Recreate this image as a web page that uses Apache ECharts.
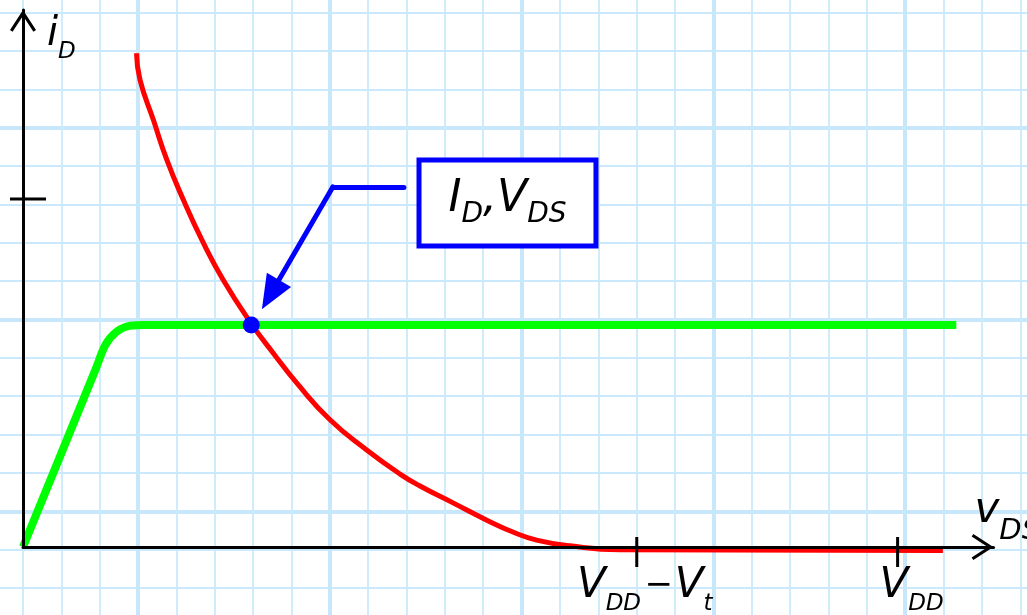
<!DOCTYPE html>
<html>
<head>
<meta charset="utf-8">
<script src="https://cdn.jsdelivr.net/npm/echarts@6/dist/echarts.min.js"></script>
<style>
  html, body { margin: 0; padding: 0; background: #fff; }
  #chart { width: 1027px; height: 615px; }
</style>
</head>
<body>
<div id="chart"></div>
<script>
// all values in graph-paper cells, measured from the origin
var redX = [2.96, 3.05, 3.40, 3.75, 4.18, 4.66, 5.22, 5.96, 6.52, 7.14, 8.01, 8.96, 9.83, 10.35, 11.21, 12.09, 12.77, 13.39, 14.26, 15.56, 23.98]
var redY = [12.87, 12.18, 11.13, 10.09, 9.05, 8.01, 6.96, 5.81, 5.06, 4.27, 3.31, 2.53, 1.90, 1.59, 1.15, 0.70, 0.39, 0.18, 0.03, -0.07, -0.09]
var greenX = [0, 1.90, 2.15, 2.45, 2.80, 3.20, 24.33]
var greenY = [0, 4.65, 5.27, 5.62, 5.77, 5.79, 5.79]
var qPoint = [5.95, 5.79]
var xTicks = [16.0, 22.8]
var xTickNames = ['{v|V}{s|DD} {m|−}{v|V}{s|t}', '{v|V}{s|DD}']
var yTicks = [9.07]
var boxAt = [12.63, 8.97]
var leader = [[9.93, 9.39], [8.08, 9.39], [6.45, 6.58]]

var FONT = 'DejaVu Sans'
var CELL = 38.36
var chevron = 'path://M13,0L26,20L23.4,21.7L13,5.6L2.6,21.7L0,20Z'

function zip (xs, ys) {
  return xs.map(function (x, i) { return [x, ys[i]] })
}

function paperAxis (step, max, color, width) {
  return {
    type: 'value', gridIndex: 0, min: 0, max: max, interval: step,
    axisLine: { show: false }, axisTick: { show: false }, axisLabel: { show: false },
    splitLine: { show: true, lineStyle: { color: color, width: width } }
  }
}

function txt (size, extra) {
  return Object.assign({ fontFamily: FONT, fontStyle: 'italic', fontSize: size, color: '#000' }, extra || {})
}

var chart = echarts.init(document.getElementById('chart'))
var option = {
  backgroundColor: '#fff',
  animation: false,
  grid: [
    { left: 138 - 5 * CELL, top: 127.7 - 5 * CELL, width: 30 * CELL, height: 20 * CELL, outerBoundsMode: 'none', containLabel: false },
    { left: 23, top: 547 - 14 * CELL, width: 25.3 * CELL, height: 14 * CELL, outerBoundsMode: 'none', containLabel: false }
  ],
  xAxis: [
    paperAxis(1, 30, '#cbe9fc', 1.8),
    paperAxis(5, 30, '#c8e7fb', 4),
    {
      type: 'value', gridIndex: 1, min: 0, max: 25.3, z: 10,
      axisLine: { symbol: ['none', chevron], symbolSize: [26, 22], symbolOffset: [0, -11], lineStyle: { color: '#000', width: 3 } },
      axisTick: { show: false }, axisLabel: { show: false }, splitLine: { show: false },
      name: '{v|v}{s|DS}', nameLocation: 'end', nameGap: -19,
      nameTextStyle: {
        align: 'left', verticalAlign: 'bottom', padding: [0, 0, 1, 0],
        rich: {
          v: txt(42, { verticalAlign: 'top', padding: [0, 0, 14, 0] }),
          s: txt(29, { verticalAlign: 'bottom' })
        }
      }
    }
  ],
  yAxis: [
    paperAxis(1, 20, '#cbe9fc', 1.8),
    paperAxis(5, 20, '#c8e7fb', 4),
    {
      type: 'value', gridIndex: 1, min: 0, max: 14, z: 10,
      axisLine: { symbol: ['none', chevron], symbolSize: [26, 22], symbolOffset: [0, -11], lineStyle: { color: '#000', width: 3 } },
      axisTick: { show: false }, axisLabel: { show: false }, splitLine: { show: false },
      name: '{i|i}{d|D}', nameLocation: 'end', nameGap: -5,
      nameTextStyle: {
        align: 'left', verticalAlign: 'top', padding: [0, 0, 0, 24],
        rich: {
          i: txt(40, { verticalAlign: 'top', padding: [0, 0, 9, 0] }),
          d: txt(23, { verticalAlign: 'bottom' })
        }
      }
    }
  ],
  series: [
    {
      name: 'device', type: 'line', xAxisIndex: 2, yAxisIndex: 2, z: 3,
      data: zip(greenX, greenY), smooth: 0.3, showSymbol: false, clip: false,
      lineStyle: { color: '#00ff00', width: 8 }
    },
    {
      name: 'load', type: 'line', xAxisIndex: 2, yAxisIndex: 2, z: 4,
      data: zip(redX, redY), smooth: 0.5, showSymbol: false, clip: false,
      lineStyle: { color: '#ff0000', width: 5 }
    },
    {
      name: 'Q', type: 'scatter', xAxisIndex: 2, yAxisIndex: 2, z: 6, clip: false,
      data: [qPoint], symbolSize: 17, itemStyle: { color: '#0000ff', opacity: 1 }
    },
    {
      name: 'xticks', type: 'scatter', xAxisIndex: 2, yAxisIndex: 2, z: 12, clip: false,
      data: xTicks.map(function (x, i) {
        return { value: [x, 0], label: { formatter: xTickNames[i], offset: [i === 0 ? 8 : 14, 0] } }
      }),
      symbol: 'rect', symbolSize: [3, 30], symbolOffset: [0, 5], itemStyle: { color: '#000', opacity: 1 },
      label: {
        show: true, position: 'bottom', distance: -2, color: '#000',
        rich: {
          v: txt(42, { verticalAlign: 'top', padding: [0, 0, 9, 0] }),
          s: txt(23, { verticalAlign: 'bottom' }),
          m: { fontFamily: FONT, fontSize: 34, color: '#000', verticalAlign: 'top', padding: [4, 2, 0, 0] }
        }
      }
    },
    {
      name: 'yticks', type: 'scatter', xAxisIndex: 2, yAxisIndex: 2, z: 12, clip: false,
      data: yTicks.map(function (y) { return [0, y] }),
      symbol: 'rect', symbolSize: [36, 3], symbolOffset: [5, 0], itemStyle: { color: '#000', opacity: 1 }
    },
    {
      name: 'callout', type: 'scatter', xAxisIndex: 2, yAxisIndex: 2, z: 8, clip: false,
      data: [boxAt], symbolSize: 1, itemStyle: { color: 'rgba(0,0,0,0)', opacity: 1 },
      label: {
        show: true, position: 'inside', color: '#000',
        formatter: '{a|I}{b|D}{a|,V}{b|DS}',
        backgroundColor: '#fff', borderColor: '#0000ff', borderWidth: 5,
        padding: [15, 27, 15, 27],
        rich: {
          a: txt(44, { verticalAlign: 'top', padding: [0, 0, 7, 0] }),
          b: txt(28, { verticalAlign: 'bottom' })
        }
      },
      markLine: {
        silent: true, symbol: ['none', 'none'], label: { show: false },
        lineStyle: { color: '#0000ff', width: 5, type: 'solid', cap: 'round', opacity: 1 },
        data: [
          [{ coord: leader[0] }, { coord: leader[1] }],
          [{ coord: leader[1] }, { coord: leader[2], symbol: 'triangle', symbolSize: [28, 34] }]
        ]
      }
    }
  ]
}
chart.setOption(option)
</script>
</body>
</html>
